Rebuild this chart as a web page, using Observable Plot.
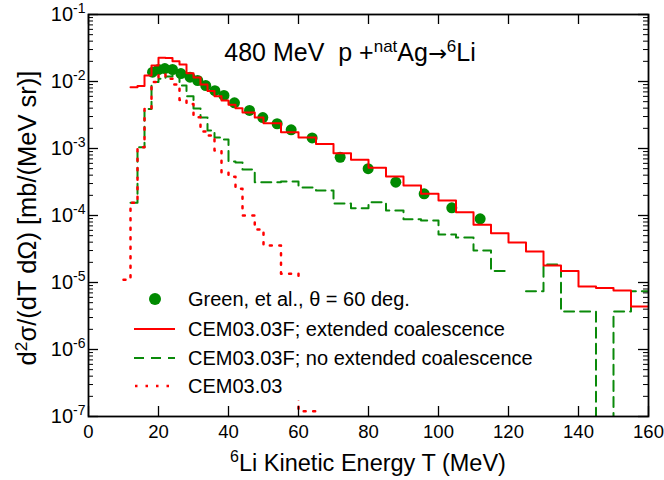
<!DOCTYPE html>
<html><head><meta charset="utf-8">
<script src="https://cdn.jsdelivr.net/npm/d3@7"></script>
<script src="https://cdn.jsdelivr.net/npm/@observablehq/plot@0.6"></script>
<style>
body{margin:0;background:#fff;font-family:"Liberation Sans",Arial,sans-serif;}
#wrap{position:relative;width:664px;height:480px;overflow:hidden;}
.ov{position:absolute;color:#000;white-space:nowrap;line-height:1;}
.ov sup{font-size:0.68em;vertical-align:0.55em;line-height:0;}
#title{left:350px;top:40px;transform:translateX(-50%);font-size:25px;}
#xlab{left:368px;top:452px;transform:translateX(-50%);font-size:23.5px;}
#ylab{left:28px;top:218px;transform:translate(-50%,-50%) rotate(-90deg);font-size:25.5px;}
#legend{left:128px;top:282px;width:370px;height:118px;background:#fff;}
.row{position:absolute;left:0;height:24px;display:flex;align-items:center;font-size:20px;}
.row svg{width:60px;height:24px;margin-right:0;}
</style></head><body><div id="wrap"></div>
<script>
// Experimental data (Green et al., theta = 60 deg)
const expT = [18.3, 20.0, 21.8, 24.0, 26.4, 29.0, 31.2, 33.5, 36.1, 38.7, 41.7, 46.0, 49.8, 53.9, 57.9, 63.9, 71.9, 79.9, 87.8, 95.9, 103.8, 111.9];
const expV = [0.0138, 0.0151, 0.0156, 0.0151, 0.01315, 0.0116, 0.01035, 0.0087, 0.0073, 0.0062, 0.0048, 0.0037, 0.0029, 0.00234, 0.0019, 0.00144, 0.00074, 0.0005, 0.000314, 0.000211, 0.00013, 0.0000893];

// Histogram bins (MeV)
const binLo = [10,12,14,16,18,20,22,24,26,28,30,32,34,36,38,40,42,44,47.5,50,55,60,65,70,75,80,85,90,95,100,105,110,115,120,125,130,135,140,145,150,155];
const binHi = [12,14,16,18,20,22,24,26,28,30,32,34,36,38,40,42,44,47.5,50,55,60,65,70,75,80,85,90,95,100,105,110,115,120,125,130,135,140,145,150,155,160];

// CEM03.03F; extended coalescence
const cemExt = [null, 8.2e-3, 8.6e-3, 0.0123, 0.0173, 0.0226, 0.0224, 0.0201, 0.0179, 0.0133, 0.0115, 9.0e-3, 7.2e-3, 6.0e-3, 5.2e-3, 4.5e-3, 4.0e-3, 3.44e-3, 2.9e-3, 2.39e-3, 1.75e-3, 1.46e-3, 1.17e-3, 8.5e-4, 6.8e-4, 5.15e-4, 3.82e-4, 2.81e-4, 2.11e-4, 1.68e-4, 1.12e-4, 7.3e-5, 5.45e-5, 3.95e-5, 2.9e-5, 1.8e-5, 1.48e-5, 8.7e-6, 8.3e-6, 7.6e-6, 4.4e-6];
// CEM03.03F; no extended coalescence
const cemNoExt = [null, 1.55e-4, 1.04e-3, 3.9e-3, 9.8e-3, 0.011, 0.0119, 0.013, 8.7e-3, 6.0e-3, 3.95e-3, 2.9e-3, 1.86e-3, 1.46e-3, 1.36e-3, 6.4e-4, 6.2e-4, 4.86e-4, 3.14e-4, 3.14e-4, 3.22e-4, 2.62e-4, 2.36e-4, 1.51e-4, 1.28e-4, 1.58e-4, 1.19e-4, 8.8e-5, 8.4e-5, 5.2e-5, 4.7e-5, 3.0e-5, 1.48e-5, null, 7.4e-6, 1.86e-5, 3.69e-6, 3.69e-6, 1e-9, 3.69e-6, 7.4e-6];
// CEM03.03
const cem0303 = [1.1e-5, 1.55e-4, 1.04e-3, 3.9e-3, 9.8e-3, 0.0127, 0.011, 9.0e-3, 5.3e-3, 4.6e-3, 2.93e-3, 1.8e-3, 1.56e-3, 9.3e-4, 4.4e-4, 3.8e-4, 2.5e-4, 1.0e-4, 6.2e-5, 3.56e-5, 1.35e-5, 1.2e-7, 1e-9, null, null, null, null, null, null, null, null, null, null, null, null, null, null, null, null, null, null];

const xTicks = [0,20,40,60,80,100,120,140,160];
const yMajor = [1e-7,1e-6,1e-5,1e-4,1e-3,1e-2,1e-1];
const yMinor = [];
for (let e = -7; e < -1; e++) for (let k = 2; k <= 9; k++) yMinor.push(k * Math.pow(10, e));

function steps(vals) {
  const pts = [];
  vals.forEach((v, i) => {
    if (v === null) { pts.push({T: binLo[i], v: NaN}); return; }
    pts.push({T: binLo[i], v}, {T: binHi[i], v});
  });
  return pts;
}
const exp = expT.map((t, i) => ({T: t, v: expV[i]}));

const W = 664, H = 480, ML = 88, MR = 16, MT = 14, MB = 64;
const fw = W - ML - MR, fh = H - MT - MB;

const plot = Plot.plot({
  width: W, height: H,
  marginLeft: ML, marginRight: MR, marginTop: MT, marginBottom: MB,
  style: {fontFamily: "Liberation Sans, Arial, sans-serif", color: "#000", background: "#fff", overflow: "visible"},
  x: {domain: [0, 160]},
  y: {type: "log", domain: [1e-7, 1e-1]},
  marks: [
    Plot.dot(exp, {x: "T", y: "v", r: 5.5, fill: "#008a00", stroke: "none"}),
    Plot.line(steps(cemNoExt), {x: "T", y: "v", stroke: "#0a8a0a", strokeWidth: 2, strokeDasharray: "10,6", clip: true, curve: "linear"}),
    Plot.line(steps(cem0303), {x: "T", y: "v", stroke: "#ff0000", strokeWidth: 2.5, strokeDasharray: "2,7.5", clip: true, curve: "linear"}),
    Plot.line(steps(cemExt), {x: "T", y: "v", stroke: "#ff0000", strokeWidth: 2, clip: true, curve: "linear"}),
    Plot.ruleX(xTicks, {insetTop: fh - 10, strokeWidth: 1.3}),
    Plot.ruleX(xTicks, {insetBottom: fh - 10, strokeWidth: 1.3}),
    Plot.ruleY(yMajor, {insetRight: fw - 10, strokeWidth: 1.3}),
    Plot.ruleY(yMajor, {insetLeft: fw - 10, strokeWidth: 1.3}),
    Plot.ruleY(yMinor, {insetRight: fw - 5, strokeWidth: 1}),
    Plot.ruleY(yMinor, {insetLeft: fw - 5, strokeWidth: 1}),
    Plot.frame({stroke: "#000", strokeWidth: 1.8}),
    Plot.axisX({ticks: xTicks, tickSize: 0, tickPadding: 8, fontSize: 18.5, label: null, tickFormat: d => String(d)}),
    Plot.axisY({ticks: yMajor, tickSize: 0, tickPadding: 3, fontSize: 20, label: null, tickFormat: d => "10^" + Math.round(Math.log10(d))})
  ]
});

d3.select(plot).selectAll('g[aria-label="y-axis tick label"] text').each(function() {
  const t = this.textContent;
  const e = t.split("^")[1];
  const s = d3.select(this);
  s.text("10");
  s.append("tspan").attr("dy", "-8").attr("font-size", "14px").text(e);
});

const wrap = document.getElementById("wrap");
wrap.appendChild(plot);

function ov(id, html) {
  const d = document.createElement("div");
  d.className = "ov"; d.id = id; d.innerHTML = html;
  wrap.appendChild(d);
  return d;
}
ov("title", "480 MeV&nbsp;&nbsp;p +<sup>nat</sup>Ag<span style=\"font-family:'DejaVu Sans';font-size:0.9em\">→</span><sup>6</sup>Li");
ov("xlab", "<sup>6</sup>Li Kinetic Energy T (MeV)");
ov("ylab", "d<sup>2</sup>σ/(dT dΩ) [mb/(MeV sr)]");

const legendItems = [
  {label: "Green, et al., θ = 60 deg.", sym: "dot"},
  {label: "CEM03.03F; extended coalescence", sym: "solid"},
  {label: "CEM03.03F; no extended coalescence", sym: "dash"},
  {label: "CEM03.03", sym: "dotted"}
];
const lg = ov("legend", "");
const rowY = [5, 35, 64, 92];
legendItems.forEach((it, i) => {
  const r = document.createElement("div");
  r.className = "row";
  r.style.top = rowY[i] + "px";
  let sym = "";
  if (it.sym === "dot") sym = '<circle cx="27" cy="12" r="6" fill="#008a00"/>';
  if (it.sym === "solid") sym = '<line x1="6" x2="47" y1="12" y2="12" stroke="#ff0000" stroke-width="2"/>';
  if (it.sym === "dash") sym = '<line x1="6" x2="47" y1="12" y2="12" stroke="#0a8a0a" stroke-width="2" stroke-dasharray="10,7"/>';
  if (it.sym === "dotted") sym = '<line x1="7" x2="47" y1="12" y2="12" stroke="#ff0000" stroke-width="2.5" stroke-dasharray="2.5,8"/>';
  r.innerHTML = '<svg viewBox="0 0 60 24">' + sym + '</svg><span>' + it.label + '</span>';
  lg.appendChild(r);
});
</script>
</body></html>
